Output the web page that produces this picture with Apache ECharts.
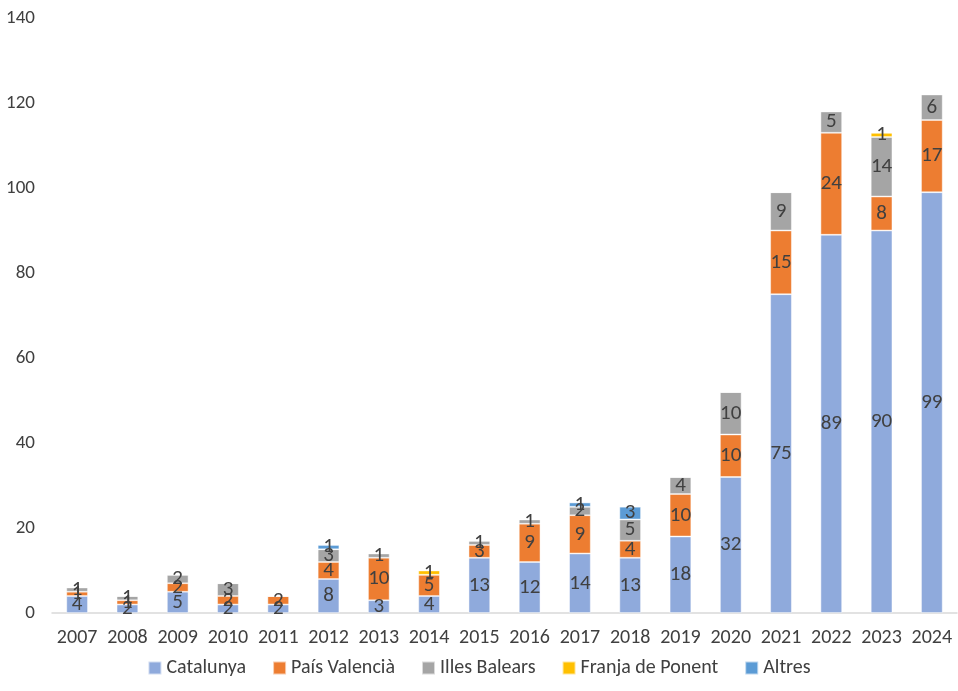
<!DOCTYPE html>
<html>
<head>
<meta charset="utf-8">
<script src="https://cdn.jsdelivr.net/npm/echarts@6/dist/echarts.min.js"></script>
<style>
html,body{margin:0;padding:0;background:#fff;}
#chart{width:958px;height:691px;}
</style>
</head>
<body>
<div id="chart"></div>
<script>
var years = ['2007','2008','2009','2010','2011','2012','2013','2014','2015','2016','2017','2018','2019','2020','2021','2022','2023','2024'];
var catalunya = [4,2,5,2,2,8,3,4,13,12,14,13,18,32,75,89,90,99];
var paisValencia = [1,1,2,2,2,4,10,5,3,9,9,4,10,10,15,24,8,17];
var illesBalears = [1,1,2,3,0,3,1,0,1,1,2,5,4,10,9,5,14,6];
var franjaPonent = [0,0,0,0,0,0,0,1,0,0,0,0,0,0,0,0,1,0];
var altres = [0,0,0,0,0,1,0,0,0,0,1,3,0,0,0,0,0,0];
var yTicks = [0,20,40,60,80,100,120,140];

var font = 'Calibri, Carlito, Lato, "Noto Sans", sans-serif';

function serie(name, data, color){
	return {
		name: name,
		type: 'bar',
		stack: 'total',
		barWidth: '43%',
		data: data,
		itemStyle: { color: color, borderColor: 'rgba(255,255,255,0.6)', borderWidth: 0.8 },
		label: {
			show: true,
			position: 'inside',
			color: '#404040',
			fontSize: 21,
			fontFamily: font,
			formatter: function(p){ return p.value ? p.value : ''; }
		}
	};
}

var chart = echarts.init(document.getElementById('chart'));
chart.setOption({
	animation: false,
	grid: { left: 52, right: 1, top: 18, bottom: 78, containLabel: false },
	legend: {
		bottom: 8,
		left: 'center',
		itemWidth: 13,
		itemHeight: 13,
		itemGap: 26,
		icon: 'rect',
		textStyle: { color: '#404040', fontSize: 20, fontFamily: font }
	},
	xAxis: {
		type: 'category',
		data: years,
		axisLine: { lineStyle: { color: '#d9d9d9', width: 1.5 } },
		axisTick: { show: false },
		axisLabel: { interval: 0, color: '#404040', fontSize: 20, fontFamily: font, margin: 15 }
	},
	yAxis: {
		type: 'value',
		min: yTicks[0],
		max: yTicks[yTicks.length-1],
		interval: 20,
		splitLine: { show: false },
		axisLine: { show: false },
		axisTick: { show: false },
		axisLabel: { color: '#404040', fontSize: 19, fontFamily: font, margin: 17 }
	},
	series: [
		serie('Catalunya', catalunya, '#8FAADC'),
		serie('País Valencià', paisValencia, '#ED7D31'),
		serie('Illes Balears', illesBalears, '#A5A5A5'),
		serie('Franja de Ponent', franjaPonent, '#FFC000'),
		serie('Altres', altres, '#5B9BD5')
	]
});
</script>
</body>
</html>
